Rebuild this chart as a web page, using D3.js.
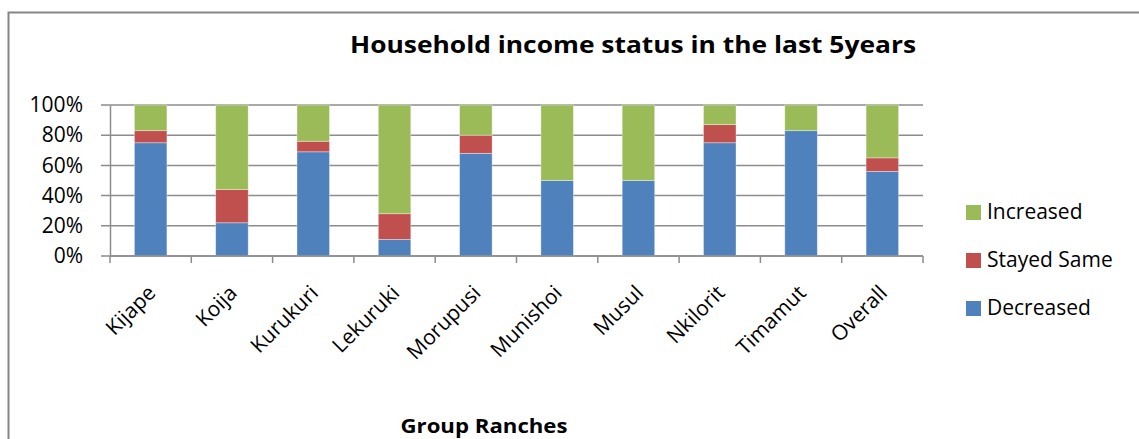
<!DOCTYPE html>
<html>
<head>
<meta charset="utf-8">
<script src="https://cdn.jsdelivr.net/npm/d3@7"></script>
<style>
  html, body { margin: 0; padding: 0; background: #fff; }
  svg { display: block; font-family: "Open Sans", "DejaVu Sans", sans-serif; }
</style>
</head>
<body>
<svg id="chart" width="1139" height="439"></svg>
<script>
// Group ranches and the share of households in each income outcome (%)
const ranches = ["Kijape", "Koija", "Kurukuri", "Lekuruki", "Morupusi", "Munishoi", "Musul", "Nkilorit", "Timamut", "Overall"];
const decreased = [75, 22, 69, 11, 68, 50, 50, 75, 83, 56];
const stayedSame = [8, 22, 7, 17, 12, 0, 0, 12, 0, 9];
const increased = [17, 56, 24, 72, 20, 50, 50, 13, 17, 35];
const seriesNames = ["Decreased", "Stayed Same", "Increased"];
const seriesColors = ["#4F81BD", "#C0504D", "#9BBB59"];
const yTicks = [0, 20, 40, 60, 80, 100];

const svg = d3.select("#chart");
const W = 1139, H = 439;

// Outer chart frame
svg.append("rect")
  .attr("x", 8.5).attr("y", 12.5)
  .attr("width", W + 20).attr("height", H + 20)
  .attr("fill", "#fff").attr("stroke", "#868686").attr("stroke-width", 2);

const plot = { left: 110, right: 923, top: 105, bottom: 256 };

const x = d3.scaleBand().domain(ranches).range([plot.left, plot.right]).paddingInner(0.6).paddingOuter(0.3);
const y = d3.scaleLinear().domain([0, 100]).range([plot.bottom, plot.top]);

// Horizontal gridlines
svg.append("g")
  .selectAll("line").data(yTicks).join("line")
  .attr("x1", plot.left - 9).attr("x2", plot.right)
  .attr("y1", d => y(d)).attr("y2", d => y(d))
  .attr("stroke", "#8c8c8c").attr("stroke-width", 1.5);

// Stacked bars
const rows = ranches.map((r, i) => ({ ranch: r, Decreased: decreased[i], "Stayed Same": stayedSame[i], Increased: increased[i] }));
const stacked = d3.stack().keys(seriesNames)(rows);

svg.append("g").selectAll("g").data(stacked).join("g")
  .attr("fill", (d, i) => seriesColors[i])
  .selectAll("rect").data(d => d).join("rect")
  .attr("x", d => x(d.data.ranch))
  .attr("width", x.bandwidth())
  .attr("y", d => y(d[1]))
  .attr("height", d => Math.max(0, y(d[0]) - y(d[1])))
  .attr("stroke", "rgba(255,255,255,0.45)").attr("stroke-width", 0.8);

// Y axis
const yAxis = d3.axisLeft(y).tickValues(yTicks).tickFormat(d => d + "%").tickSize(0).tickPadding(0);
const gy = svg.append("g").attr("transform", `translate(${plot.left},0)`).call(yAxis);
gy.select(".domain").attr("stroke", "#8c8c8c").attr("stroke-width", 1.5);
gy.selectAll("text")
  .attr("x", -27)
  .attr("font-size", 21).attr("fill", "#000")
  .attr("font-family", "'Open Sans', sans-serif");

// X axis with tick marks at category boundaries
const gx = svg.append("g").attr("transform", `translate(0,${plot.bottom})`);
gx.append("line").attr("x1", plot.left).attr("x2", plot.right)
  .attr("stroke", "#8c8c8c").attr("stroke-width", 1.5);
const boundaries = d3.range(ranches.length + 1).map(i => plot.left + i * (plot.right - plot.left) / ranches.length);
gx.selectAll("line.tick").data(boundaries).join("line").attr("class", "tick")
  .attr("x1", d => d).attr("x2", d => d).attr("y1", 0).attr("y2", 7)
  .attr("stroke", "#8c8c8c").attr("stroke-width", 1.5);

gx.selectAll("text").data(ranches).join("text")
  .attr("transform", d => `translate(${x(d) + x.bandwidth() / 2 + 1},${33}) rotate(-45)`)
  .attr("text-anchor", "end")
  .attr("dy", "0.35em")
  .attr("font-size", 21).attr("fill", "#000")
  .text(d => d);

// Title
svg.append("text")
  .attr("x", 633).attr("y", 53)
  .attr("text-anchor", "middle")
  .attr("font-size", 24).attr("font-weight", "bold").attr("fill", "#000")
  .attr("textLength", 566).attr("lengthAdjust", "spacingAndGlyphs")
  .text("Household income status in the last 5years");

// Axis title
svg.append("text")
  .attr("x", 484).attr("y", 433)
  .attr("text-anchor", "middle")
  .attr("font-size", 19).attr("font-weight", "bold").attr("fill", "#000")
  .attr("textLength", 167).attr("lengthAdjust", "spacingAndGlyphs")
  .text("Group Ranches");

// Legend (top entry is the top stack segment)
const legendItems = seriesNames.map((n, i) => ({ name: n, color: seriesColors[i] })).reverse();
const lg = svg.append("g").selectAll("g").data(legendItems).join("g")
  .attr("transform", (d, i) => `translate(966,${212 + i * 48})`);
lg.append("rect").attr("x", 0).attr("y", -7).attr("width", 15).attr("height", 15).attr("fill", d => d.color);
lg.append("text").attr("x", 21).attr("y", 0).attr("dy", "0.35em")
  .attr("font-size", 21).attr("fill", "#000")
  .text(d => d.name);
</script>
</body>
</html>
